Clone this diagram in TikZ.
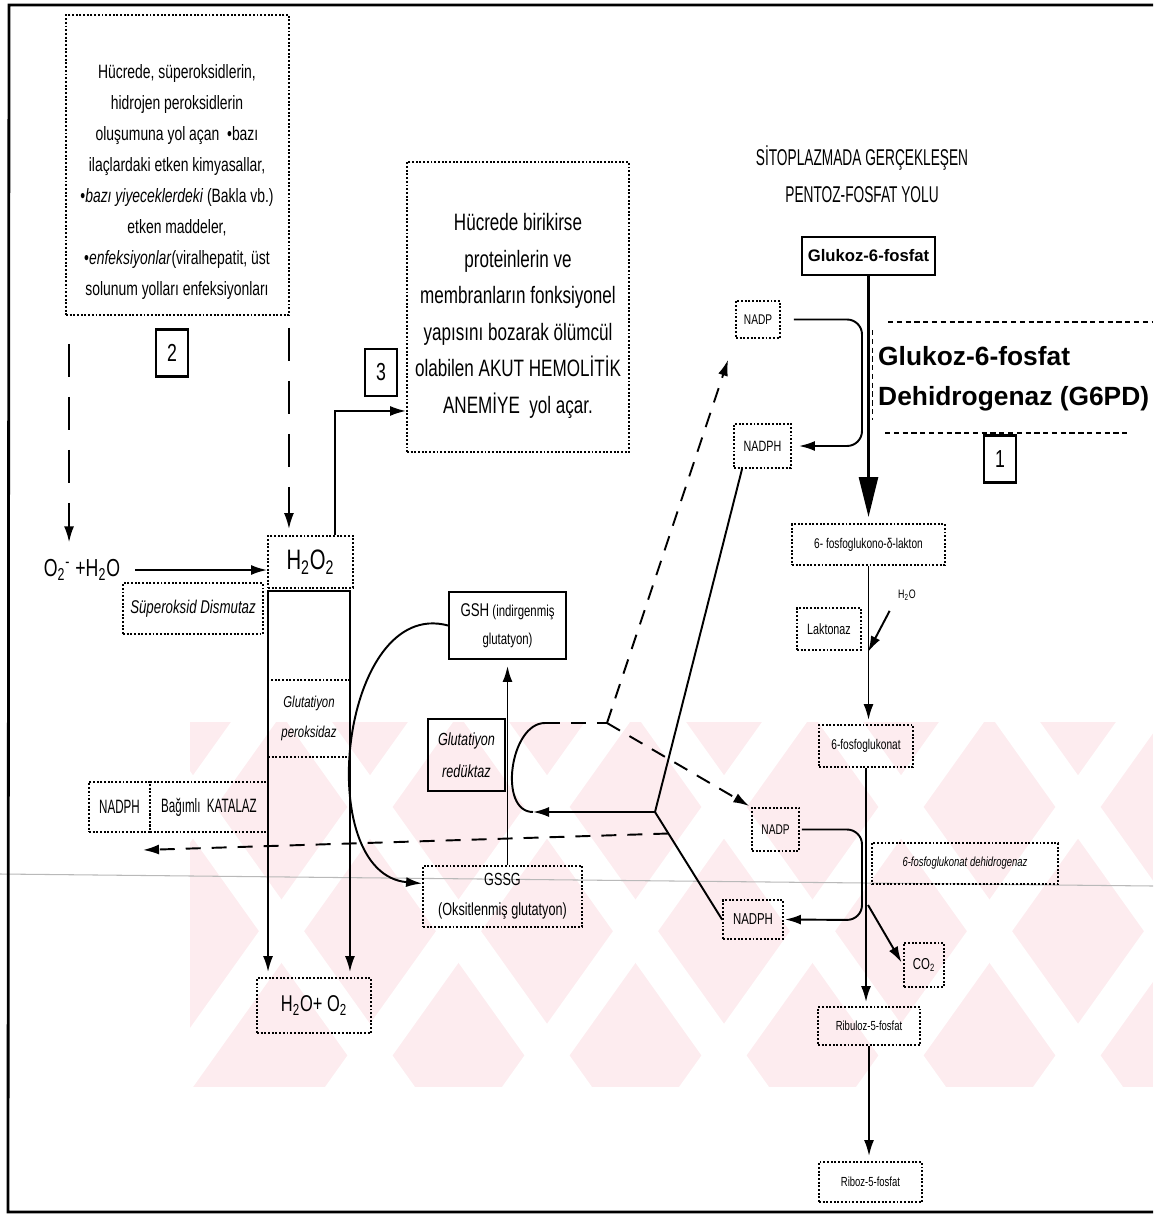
\documentclass[tikz,border=0pt]{standalone}
\usepackage{fontspec}
\setmainfont{Liberation Sans}[FakeStretch=0.72]
\newfontfamily\narrowfont{Liberation Sans}[FakeStretch=0.6]
\newfontfamily\arialfont{Liberation Sans}
\usetikzlibrary{arrows.meta, positioning, calc}
\definecolor{wmpink}{RGB}{253,236,239}

\begin{document}
\begin{tikzpicture}[
    x=0.02cm, y=-0.02cm,
    box/.style={
        rectangle, draw, densely dotted, line width=1.1pt,
        inner sep=1pt, align=center
    },
    solidbox/.style={
        rectangle, draw, line width=1.1pt,
        inner sep=1pt, align=center
    },
    numbox/.style={
        rectangle, draw, line width=1.3pt,
        font=\fontsize{14}{16}\selectfont,
        minimum width=0.64cm, minimum height=0.94cm
    },
    arr/.style={-{Latex[length=0.32cm, width=0.2cm]}, line width=1.1pt},
    bigarr/.style={-{Triangle[length=0.8cm, width=0.38cm]}, line width=1.5pt},
    dasharr/.style={arr, dash pattern=on 0.3cm off 0.22cm},
    dashline/.style={line width=1.1pt, dash pattern=on 0.3cm off 0.22cm},
    longdash/.style={arr, dash pattern=on 0.66cm off 0.4cm},
    plain/.style={line width=1.1pt},
    frame/.style={line width=1.0pt, densely dashed}
]
\useasboundingbox (0,0) rectangle (1153,1216);

% watermark band
\begin{scope}
  \clip (190,722) rectangle (1153,1087);
  \fill[wmpink] (190,722) rectangle (1153,1087);
  \foreach \s in {92,269,446,623,800,977,1154}
    \fill[white] (\s-121,1087) -- (\s+139,722) -- (\s+184,722) -- (\s-76,1087) -- cycle;
  \foreach \s in {249,426,603,780,957,1134}
    \fill[white] (\s+121,1087) -- (\s-139,722) -- (\s-94,722) -- (\s+166,1087) -- cycle;
\end{scope}

\draw[gray!55, line width=0.6pt] (0,874) -- (1153,886);
\draw[line width=1.6pt] (1153,5) -- (9,5) -- (8,1212) -- (1153,1212);

% --- causes of oxidant stress
\node[box, minimum width=4.46cm, minimum height=6.0cm] (causebox) at (177.5,165) {};
\node[align=center, font=\fontsize{11}{17.6}\selectfont] (causetext) at (177,182)
    {Hücrede, süperoksidlerin,\\ hidrojen peroksidlerin\\ oluşumuna yol açan \ •bazı\\
     ilaçlardaki etken kimyasallar,\\ •\textit{bazı yiyeceklerdeki} (Bakla vb.)\\ etken maddeler,\\
     •\textit{enfeksiyonlar}(viralhepatit, üst\\ solunum yolları enfeksiyonları};
\node[numbox] (num2) at (172,353) {2};

\node[font=\fontsize{14}{16}\selectfont] (o2) at (82,570) {O\textsubscript{2}\textsuperscript{-} +H\textsubscript{2}O};
\node[box, minimum width=1.7cm, minimum height=1.04cm, font=\fontsize{16}{18}\selectfont] (h2o2) at (310.5,562) {H\textsubscript{2}O\textsubscript{2}};
\node[box, minimum width=2.8cm, minimum height=1.02cm, font=\itshape\fontsize{10.5}{12}\selectfont] (sod) at (193,608.5) {Süperoksid Dismutaz};
\node[box, minimum width=1.64cm, minimum height=1.54cm, font=\itshape\fontsize{9}{17}\selectfont] (gpx) at (309,718.5) {Glutatiyon\\ peroksidaz};
\node[box, minimum width=1.22cm, minimum height=1.0cm, font=\narrowfont\fontsize{11}{13}\selectfont] (nadphL) at (119.5,807) {NADPH};
\node[box, minimum width=2.36cm, minimum height=1.0cm, font=\narrowfont\fontsize{11}{13}\selectfont] (kat) at (209,807) {Bağımlı \ KATALAZ};
\node[box, minimum width=2.28cm, minimum height=1.1cm, font=\fontsize{13}{15}\selectfont] (h2oo2) at (314,1005.5) {H\textsubscript{2}O+ O\textsubscript{2}};

% --- hemolytic anemia
\node[numbox] (num3) at (381,372.5) {3};
\node[box, minimum width=4.44cm, minimum height=5.8cm] (anemia) at (518,307) {};
\node[align=center, font=\fontsize{13.5}{20.8}\selectfont] (anemiatext) at (518,316)
    {Hücrede birikirse\\ proteinlerin ve\\ membranların fonksiyonel\\ yapısını bozarak ölümcül\\
     olabilen AKUT HEMOLİTİK\\ ANEMİYE \ yol açar.};

% --- glutathione cycle
\node[solidbox, minimum width=2.34cm, minimum height=1.34cm, font=\fontsize{9}{16}\selectfont] (gsh) at (507.5,625.5)
    {{\fontsize{10.5}{12}\selectfont GSH} (indirgenmiş\\ glutatyon)};
\node[solidbox, minimum width=1.54cm, minimum height=1.44cm, font=\itshape\fontsize{10}{18}\selectfont] (gr) at (466.5,755) {Glutatiyon\\ redüktaz};
\node[box, minimum width=3.18cm, minimum height=1.22cm, font=\fontsize{10}{17}\selectfont] (gssg) at (502.5,896.5) {GSSG\\ (Oksitlenmiş glutatyon)};

% --- pentose phosphate pathway
\node[align=center, font=\narrowfont\fontsize{13}{21}\selectfont] (title) at (862,174) {SİTOPLAZMADA GERÇEKLEŞEN\\ PENTOZ-FOSFAT YOLU};
\node[solidbox, line width=1.6pt, minimum width=2.66cm, minimum height=0.76cm, font=\arialfont\bfseries\fontsize{9.5}{11}\selectfont] (g6p) at (868.5,256) {Glukoz-6-fosfat};
\node[box, minimum width=0.88cm, minimum height=0.74cm, font=\fontsize{8}{10}\selectfont] (nadpA) at (758,319.5) {NADP};
\node[box, minimum width=1.14cm, minimum height=0.88cm, font=\fontsize{8.5}{10}\selectfont] (nadphA) at (762.5,446) {NADPH};
\node[anchor=west, align=left, font=\arialfont\bfseries\fontsize{15}{23}\selectfont] (g6pd) at (872,379) {Glukoz-6-fosfat\\ Dehidrogenaz (G6PD)};
\draw[frame] (888,322) -- (1153,322);
\draw[frame, line width=0.5pt] (872,330) -- (872,420);
\draw[frame] (885,433) -- (1128,433);
\node[numbox] (num1) at (1000,459) {1};

\node[box, minimum width=3.06cm, minimum height=0.82cm, font=\fontsize{8}{10}\selectfont] (lakton) at (868.5,544.5) {6- fosfoglukono-δ-lakton};
\node[box, minimum width=1.28cm, minimum height=0.84cm, font=\fontsize{8.5}{10}\selectfont] (laktonaz) at (829,629) {Laktonaz};
\node[font=\fontsize{7}{8}\selectfont] (h2oL) at (907,595) {H\textsubscript{2}O};
\node[box, minimum width=1.88cm, minimum height=0.84cm, font=\fontsize{8}{10}\selectfont] (pglu) at (866,746) {6-fosfoglukonat};
\node[box, minimum width=0.94cm, minimum height=0.86cm, font=\fontsize{8}{10}\selectfont] (nadpB) at (775.5,829.5) {NADP};
\node[box, minimum width=3.72cm, minimum height=0.82cm, font=\itshape\fontsize{7.5}{9}\selectfont] (pgd) at (965,863.5) {6-fosfoglukonat dehidrogenaz};
\node[box, minimum width=1.2cm, minimum height=0.78cm, font=\fontsize{9}{10}\selectfont] (nadphB) at (753,919.5) {NADPH};
\node[box, minimum width=0.8cm, minimum height=0.88cm, font=\fontsize{9}{10}\selectfont] (co2) at (924,965) {CO\textsubscript{2}};
\node[box, minimum width=2.04cm, minimum height=0.76cm, font=\fontsize{7.5}{9}\selectfont] (ru5p) at (869,1026) {Ribuloz-5-fosfat};
\node[box, minimum width=2.06cm, minimum height=0.8cm, font=\fontsize{7.5}{9}\selectfont] (r5p) at (870.5,1182) {Riboz-5-fosfat};

% main pathway
\draw[bigarr, shorten >=0.12cm] (g6p.south) -- (lakton.north);
\draw[arr, shorten >=0.08cm] (lakton.south) -- (lakton.south |- pglu.north);
\draw[arr, shorten >=0.08cm] (pglu.south) -- (pglu.south |- ru5p.north);
\draw[arr, shorten >=0.1cm] (ru5p.south) -- (ru5p.south |- r5p.north);
\coordinate (lakIn) at (868,652);
\draw[arr, shorten <=0.1cm] (h2oL.south west) -- (lakIn);
\coordinate (co2Out) at (868,905);
\draw[arr, shorten >=0.06cm] (co2Out) -- (co2.west);

% NADP / NADPH couples
\coordinate (g6pdBend) at (862,446);
\draw[arr, rounded corners=0.3cm, shorten <=0.26cm, shorten >=0.14cm] (nadpA.east) -| (g6pdBend) -- (nadphA.east);
\coordinate (pgdBend) at (862,920);
\draw[arr, rounded corners=0.3cm, shorten <=0.04cm, shorten >=0.02cm] (nadpB.east) -| (pgdBend) -- (nadphB.east);

% glutathione reductase coupling
\coordinate (jn) at (655,812);
\coordinate (grIn) at (533,812);
\coordinate (hookTop) at (545,723);
\coordinate (split) at (607,723);
\draw[plain] ([xshift=0.18cm]nadphA.south west) -- (jn) -- (nadphB.west);
\draw[arr] (jn) -- (grIn);
\draw[plain] (hookTop) to[out=180, in=180, looseness=1.0] (grIn);
\draw[dashline] (hookTop) -- (split);
\draw[dasharr, shorten >=0.44cm] (split) -- (nadpA.south west);
\draw[dasharr, shorten >=0.04cm] (split) -- (nadpB.north west);
\draw[arr, shorten >=0.12cm] (gssg.north -| gsh.south) -- (gsh.south);
\draw[arr] (gsh.west) to[out=165, in=175, looseness=1.1] ([yshift=0.26cm]gssg.west);
\coordinate (catOut) at ($(jn)!0.2!(nadphB.west)$);
\coordinate (catEnd) at (143,850);
\draw[dasharr] (catOut) -- (catEnd);

% hydrogen peroxide
\draw[longdash, shorten <=0.56cm, shorten >=0.22cm] ([xshift=0.08cm]causebox.south west) -- ([xshift=0.08cm]causebox.south west |- o2.north);
\draw[longdash, shorten <=0.24cm, shorten >=0.12cm] ([xshift=-0.02cm]causebox.south east) -- ([xshift=-0.02cm]causebox.south east |- h2o2.north);
\draw[arr, shorten <=0.18cm] (o2.east) -- (o2.east -| h2o2.west);
\draw[arr] ([xshift=0.49cm]h2o2.north) |- ([yshift=-2.08cm]anemia.west);
\draw[plain] ([yshift=-0.04cm]h2o2.south west) -- ([xshift=-0.06cm, yshift=-0.04cm]h2o2.south east);
\draw[arr, shorten >=0.1cm] ([xshift=0.02cm, yshift=-0.04cm]h2o2.south west) -- ([xshift=0.02cm]h2o2.south west |- h2oo2.north);
\draw[arr, shorten >=0.1cm] ([xshift=-0.08cm, yshift=-0.04cm]h2o2.south east) -- ([xshift=-0.08cm]h2o2.south east |- h2oo2.north);

\end{tikzpicture}
\end{document}
